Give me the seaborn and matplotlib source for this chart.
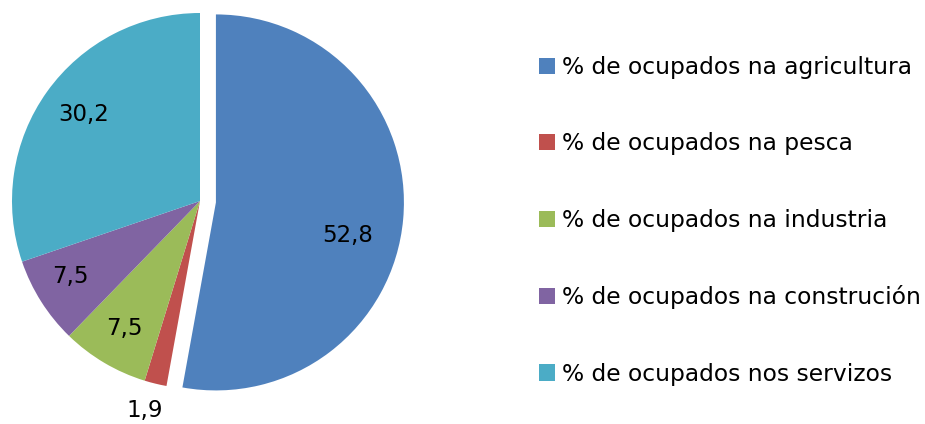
import matplotlib
matplotlib.use("Agg")
import matplotlib.pyplot as plt
import seaborn as sns
import numpy as np

# Data
sectores = [
    "% de ocupados na agricultura",
    "% de ocupados na pesca",
    "% de ocupados na industria",
    "% de ocupados na construción",
    "% de ocupados nos servizos",
]
valores = [52.8, 1.9, 7.5, 7.5, 30.2]
etiquetas = ["52,8", "1,9", "7,5", "7,5", "30,2"]
cores = ["#4F81BD", "#C0504D", "#9BBB59", "#8064A2", "#4BACC6"]

sns.set_style("white")
plt.rcParams["font.family"] = ["DejaVu Sans"]

fig = plt.figure(figsize=(9.25, 4.24), dpi=100)
# square axes, pie centre at ~(200, 201) px, radius ~188 px
ax = fig.add_axes([-35 / 925, -12 / 424, 470 / 925, 470 / 424])

explode = [0.085, 0, 0, 0, 0]
wedges, _ = ax.pie(valores, colors=cores, startangle=90, counterclock=False,
                   explode=explode, wedgeprops=dict(linewidth=0))
ax.set_xlim(-1.25, 1.25)
ax.set_ylim(-1.25, 1.25)
ax.axis("off")

# label placement (distance from centre, angle tweak) like Excel's best fit
dist = [0.72, 1.15, 0.79, 0.80, 0.77]
tweak = [-9, -1, 0, -2, -1]
for w, txt, d, t in zip(wedges, etiquetas, dist, tweak):
    ang = np.deg2rad((w.theta1 + w.theta2) / 2 + t)
    cx, cy = w.center
    ax.text(cx + d * np.cos(ang), cy + d * np.sin(ang), txt,
            ha="center", va="center", fontsize=16.5, color="black")

leg = fig.legend(wedges, sectores, loc="center left",
                 bbox_to_anchor=(539 / 925, 0.479), frameon=False,
                 fontsize=16.8, handlelength=0.7, handleheight=0.7,
                 handletextpad=0.3, labelspacing=2.29,
                 borderpad=0, borderaxespad=0)
for t in leg.get_texts():
    t.set_color("black")

fig.savefig("out.png", dpi=100)
